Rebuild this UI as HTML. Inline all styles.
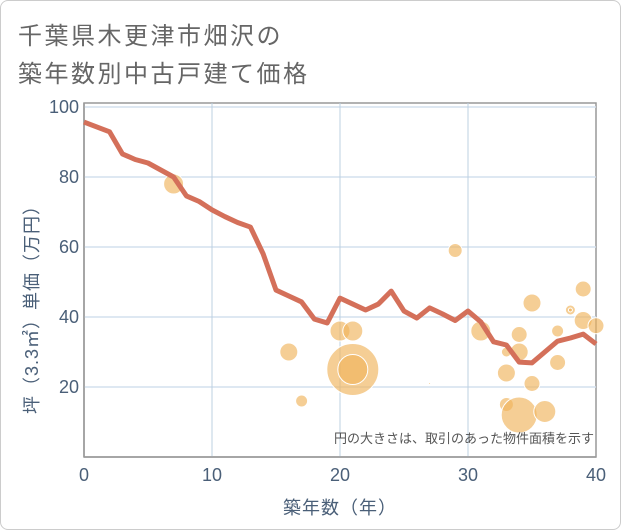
<!DOCTYPE html>
<html><head><meta charset="utf-8"><style>
body{margin:0;background:#fff;}
#card{position:absolute;left:0;top:0;width:619px;height:528px;border:1px solid #ccc;border-radius:8px;background:#fff;}
.t{position:absolute;left:18px;font:24px "Liberation Sans","Noto Sans CJK JP",sans-serif;color:#666;letter-spacing:2.5px}
</style></head><body>
<div id="card"></div>
<div class="t" style="top:16px">千葉県木更津市畑沢の</div>
<div class="t" style="top:54px">築年数別中古戸建て価格</div>
<svg id="c" width="621" height="530" style="position:absolute;left:0;top:0"></svg>
<script>
const years=[0,2,3,4,5,6,7,8,9,10,11,12,13,14,15,16,17,18,19,20,21,22,23,24,25,26,27,28,29,30,31,32,33,34,35,36,37,38,39,40];
const avgPrice=[95.7,92.9,86.6,85,84,82,80,74.6,73,70.6,68.7,67,65.7,58,47.7,46,44.3,39.4,38.3,45.4,43.7,42,43.7,47.4,41.7,39.7,42.6,40.9,39,41.7,38.6,32.9,32,27.1,26.9,30,33.1,34,35.1,32.3];
const bubbleYears=[7,16,17,20,21,21,21,29,27,31,34,35,39,38,38,39,40,37,34,33,33,37,35,33,34,36];
const bubblePrices=[78,30,16,36,36,25,25,59,21,36,35,44,48,42,42,39,37.5,36,30,30,24,27,21,15,12,13];
const bubbleSizes=[10,9,6,10,10,26,15,7,1,10,8,9,8,5,2,9,8,6,9,5,9,8,8,7,18,11];
const xTicks=[0,10,20,30,40];
const yTicks=[20,40,60,80,100];
const NS="http://www.w3.org/2000/svg";
const svg=document.getElementById('c');
const L=84,R=596,T=103,B=457;
const X=v=>L+(v-0)/40*(R-L);
const Y=v=>B-v/100*(B-107);
function mk(t,a){const e=document.createElementNS(NS,t);for(const k in a)e.setAttribute(k,a[k]);svg.appendChild(e);return e;}
mk('rect',{x:L,y:T,width:R-L,height:B-T,fill:'none',stroke:'#999','stroke-width':1.5});
yTicks.forEach(v=>{
 const g=mk('line',{x1:L,x2:R,y1:Y(v),y2:Y(v),stroke:'#d3e0ee','stroke-width':1.5});
 
 
 const t=mk('text',{x:L-5,y:Y(v)+6,'text-anchor':'end','font-size':18,fill:'#4a5f78','font-family':'Liberation Sans'});
 t.textContent=v;
 
 
});
xTicks.forEach(v=>{
 if(v>0&&v<40){const g=mk('line',{x1:X(v),x2:X(v),y1:T,y2:B,stroke:'#bcd0e2','stroke-width':1});
 
 }
 const t=mk('text',{x:X(v),y:B+24,'text-anchor':'middle','font-size':18,fill:'#4a5f78','font-family':'Liberation Sans'});
 t.textContent=v;
 
 
});
mk('line',{x1:L,x2:L,y1:T,y2:B,stroke:'#999','stroke-width':1.5});
mk('line',{x1:L,x2:R,y1:B,y2:B,stroke:'#999','stroke-width':1.5});
bubbleYears.forEach((yr,i)=>{
 const c=mk('circle',{cx:X(yr),cy:Y(bubblePrices[i]),r:bubbleSizes[i],fill:'#f0b45c','fill-opacity':0.65,stroke:'#fff','stroke-width':1});
 
 
});
const p=mk('polyline',{points:years.map((y,i)=>X(y)+','+Y(avgPrice[i])).join(' '),fill:'none',stroke:'#d4705a','stroke-width':5,'stroke-linejoin':'round'});


const n=mk('text',{x:594,y:443,'text-anchor':'end','font-size':13,fill:'#555','font-family':'Liberation Sans, Noto Sans CJK JP, sans-serif'});
n.textContent='円の大きさは、取引のあった物件面積を示す';


const xt=mk('text',{x:340,y:514,'text-anchor':'middle','font-size':18,fill:'#4a5f78','font-family':'Liberation Sans, Noto Sans CJK JP, sans-serif','letter-spacing':1});
xt.textContent='築年数（年）';


const yt=mk('text',{x:0,y:0,'text-anchor':'middle','font-size':18,fill:'#4a5f78','font-family':'Liberation Sans, Noto Sans CJK JP, sans-serif','letter-spacing':1,transform:'translate(38,305) rotate(-90)'});
yt.textContent='坪（3.3㎡）単価（万円）';


</script>
</body></html>
